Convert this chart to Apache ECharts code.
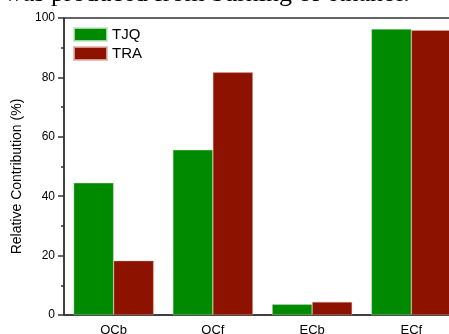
<!DOCTYPE html>
<html>
<head>
<meta charset="utf-8">
<script src="https://cdn.jsdelivr.net/npm/echarts@6/dist/echarts.min.js"></script>
<style>html,body{margin:0;padding:0;background:#fff;}#c{width:449px;height:334px;}</style>
</head>
<body>
<div id="c"></div>
<script>
var categories = ['OCb', 'OCf', 'ECb', 'ECf'];
var tjq = [44.5, 55.6, 3.6, 96.3];
var tra = [18.3, 81.7, 4.4, 95.9];
var yTicks = [0, 20, 40, 60, 80, 100];
var headerText = 'was produced from burning of ethanol.';

var chart = echarts.init(document.getElementById('c'), null, {renderer: 'canvas'});
var sans = '"Liberation Sans", Arial, sans-serif';
chart.setOption({
  animation: false,
  backgroundColor: '#fff',
  graphic: [{
    type: 'text', left: 4, top: -19,
    style: {text: headerText, font: '26px "Liberation Serif", "Times New Roman", serif', fill: '#000'}
  }],
  legend: {
    left: 73, top: 27, orient: 'vertical', padding: 0, itemGap: 4,
    itemWidth: 33, itemHeight: 13, icon: 'rect',
    textStyle: {fontFamily: sans, fontSize: 15, color: '#000'},
    data: ['TJQ', 'TRA']
  },
  grid: {left: 64, top: 18, bottom: 19, width: 397, containLabel: false, outerBoundsMode: 'none',
    show: true, borderColor: '#333', borderWidth: 1.5},
  xAxis: [{
    type: 'category', data: categories,
    axisLine: {lineStyle: {color: '#333', width: 1.5}},
    axisTick: {alignWithLabel: true, length: 6, lineStyle: {color: '#333', width: 1.5}},
    axisLabel: {fontFamily: sans, fontSize: 13, color: '#000', margin: 9}
  }, {
    type: 'category', data: categories, position: 'bottom',
    axisLine: {show: false},
    axisTick: {length: 3, lineStyle: {color: '#333', width: 1.5}},
    axisLabel: {show: false}
  }],
  yAxis: {
    type: 'value', min: yTicks[0], max: yTicks[yTicks.length - 1], interval: 20,
    name: 'Relative Contribution (%)', nameLocation: 'middle', nameGap: 35,
    nameTextStyle: {fontFamily: sans, fontSize: 14, color: '#000', padding: [0, 20, 0, 0]},
    axisLine: {show: true, lineStyle: {color: '#333', width: 1.5}},
    axisTick: {show: true, length: 6, lineStyle: {color: '#333', width: 1.5}},
    minorTick: {show: true, splitNumber: 2, length: 3, lineStyle: {color: '#333', width: 1.5}},
    splitLine: {show: false},
    axisLabel: {fontFamily: sans, fontSize: 12, color: '#000', margin: 9}
  },
  series: [{
    name: 'TJQ', type: 'bar', data: tjq, barWidth: 40, barGap: '0%',
    itemStyle: {color: '#008a00', borderColor: 'rgba(200,230,200,0.8)', borderWidth: 0.5}
  }, {
    name: 'TRA', type: 'bar', data: tra, barWidth: 40, barGap: '0%',
    itemStyle: {color: '#8e1200', borderColor: 'rgba(230,180,170,0.8)', borderWidth: 0.5}
  }]
});
</script>
</body>
</html>
